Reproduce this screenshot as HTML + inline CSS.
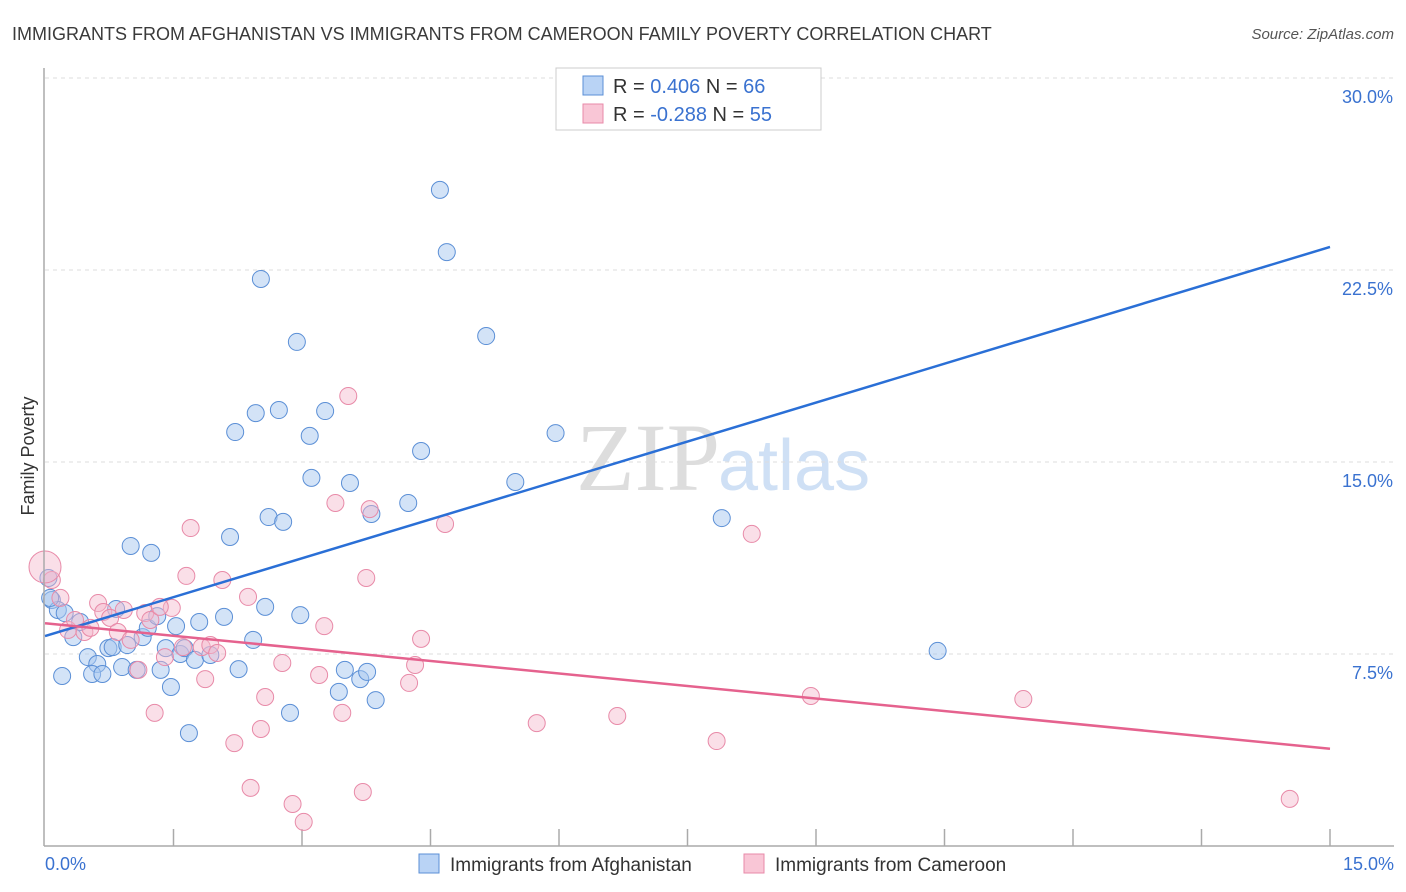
<!DOCTYPE html>
<html><head><meta charset="utf-8"><style>
body{margin:0;background:#fff;font-family:"Liberation Sans",sans-serif}
svg{display:block}
</style></head><body>
<svg id="c" width="1406" height="892">
<text x="12" y="40" font-size="18" fill="#3a3a3a">IMMIGRANTS FROM AFGHANISTAN VS IMMIGRANTS FROM CAMEROON FAMILY POVERTY CORRELATION CHART</text>
<text x="1394" y="39" font-size="15" fill="#555" font-style="italic" text-anchor="end">Source: ZipAtlas.com</text>
<text x="34" y="456" font-size="18" fill="#333" transform="rotate(-90 34 456)" text-anchor="middle">Family Poverty</text>
<text x="720" y="490" font-size="96" font-family="Liberation Serif,serif" fill="#ddd" text-anchor="end">ZIP</text>
<text x="718" y="490" font-size="72" fill="#cfe0f5">atlas</text>
<g id="grid"></g><g id="pts"></g><g id="lines"></g>
<line x1="44" y1="68" x2="44" y2="846" stroke="#aaa" stroke-width="1.5"/>
<line x1="44" y1="846" x2="1394" y2="846" stroke="#aaa" stroke-width="1.5"/>
<text x="45" y="870" font-size="18" fill="#3a72d0">0.0%</text>
<text x="1394" y="870" font-size="18" fill="#3a72d0" text-anchor="end">15.0%</text>
<g>
<rect x="556" y="68" width="265" height="62" fill="#fff" stroke="#ccc"/>
<rect x="583" y="76" width="20" height="19" fill="#b9d3f5" stroke="#5b8fd6"/>
<rect x="583" y="104" width="20" height="19" fill="#f9c6d6" stroke="#e88aa8"/>
<text x="613" y="93" font-size="20" fill="#333">R =  <tspan fill="#3a72d0">0.406</tspan>   N = <tspan fill="#3a72d0">66</tspan></text>
<text x="613" y="121" font-size="20" fill="#333">R = <tspan fill="#3a72d0">-0.288</tspan>   N = <tspan fill="#3a72d0">55</tspan></text>
</g>
<g>
<rect x="419" y="854" width="20" height="19" fill="#b9d3f5" stroke="#5b8fd6"/>
<text x="450" y="871" font-size="19" fill="#333">Immigrants from Afghanistan</text>
<rect x="744" y="854" width="20" height="19" fill="#f9c6d6" stroke="#e88aa8"/>
<text x="775" y="871" font-size="19" fill="#333">Immigrants from Cameroon</text>
</g>
</svg>
<script>
const yTicks=[7.5,15,22.5,30];
const yTickLabels=["7.5%","15.0%","22.5%","30.0%"];
const blueX=[],blueY=[],pinkX=[],pinkY=[];
const bluePx=[[440,190],[447,252],[261,279],[486,336],[297,342],[256,413],[279,410],[325,411],[235,432],[310,436],[556,433],[421,451],[311,478],[350,483],[515,482],[408,503],[371,514],[269,517],[283,522],[722,518],[230,537],[131,546],[151,553],[938,651],[52,600],[58,610],[65,613],[80,622],[73,637],[88,657],[97,664],[62,676],[92,674],[102,674],[108,648],[113,647],[116,609],[127,645],[122,667],[143,637],[148,628],[157,616],[161,670],[137,670],[166,648],[171,687],[176,626],[180,654],[185,648],[195,660],[199,622],[210,655],[224,617],[239,669],[253,640],[265,607],[300,615],[189,733],[290,713],[345,670],[339,692],[360,679],[367,672],[376,700],[48,578],[50,598]];
const pinkPx=[[52,580],[60,598],[68,630],[75,620],[84,632],[90,628],[98,603],[103,612],[110,618],[118,632],[124,610],[131,640],[138,670],[145,613],[150,620],[155,713],[165,657],[172,608],[183,647],[186,576],[191,528],[202,647],[205,679],[210,645],[217,653],[222,580],[234,743],[248,597],[251,788],[261,729],[265,697],[282,663],[293,804],[304,822],[319,675],[324,626],[335,503],[342,713],[348,396],[363,792],[366,578],[370,509],[409,683],[415,665],[421,639],[445,524],[537,723],[617,716],[717,741],[752,534],[811,696],[1023,699],[1290,799],[160,607],[45,567]];
bluePx.forEach(p=>{blueX.push(+((p[0]-45)*15/1285).toFixed(2));blueY.push(+((846-p[1])*7.5/192).toFixed(2));});
pinkPx.forEach(p=>{pinkX.push(+((p[0]-45)*15/1285).toFixed(2));pinkY.push(+((846-p[1])*7.5/192).toFixed(2));});
const blueTrend=[8.2,23.4];
const pinkTrend=[8.7,3.8];
const sx=v=>45+v*1285/15, sy=v=>846-v*192/7.5;
const NS="http://www.w3.org/2000/svg";
function mk(t,a,parent){const e=document.createElementNS(NS,t);for(const k in a)e.setAttribute(k,a[k]);parent.appendChild(e);return e;}
const grid=document.getElementById('grid');
yTicks.forEach((t,i)=>{
 const l=mk('line',{x1:45,x2:1394,y1:sy(t),y2:sy(t),stroke:'#ddd','stroke-dasharray':'4,4'},grid);
 
 
 const tx=mk('text',{x:1393,y:sy(t)+25,'font-size':18,fill:'#3a72d0','text-anchor':'end'},grid);
 tx.textContent=yTickLabels[i];
 
 
});
for(let i=1;i<=10;i++){
 const x=sx(i*1.5);
 const l=mk('line',{x1:x,x2:x,y1:829,y2:846,stroke:'#aaa','stroke-width':1.5},grid);
 
 
}
const pts=document.getElementById('pts');
blueX.forEach((x,i)=>{
 const c=mk('circle',{cx:sx(x),cy:sy(blueY[i]),r:8.5,fill:'rgba(168,200,240,0.5)',stroke:'#5b8fd6','stroke-width':1},pts);
 
 
});
pinkX.forEach((x,i)=>{
 const c=mk('circle',{cx:sx(x),cy:sy(pinkY[i]),r:i==pinkX.length-1?16:8.5,fill:'rgba(245,184,203,0.45)',stroke:'#e88aa8','stroke-width':1},pts);
 
 
});
const lines=document.getElementById('lines');
const b=mk('line',{x1:sx(0),y1:sy(blueTrend[0]),x2:sx(15),y2:sy(blueTrend[1]),stroke:'#2a6fd6','stroke-width':2.5},lines);


const p=mk('line',{x1:sx(0),y1:sy(pinkTrend[0]),x2:sx(15),y2:sy(pinkTrend[1]),stroke:'#e5628e','stroke-width':2.5},lines);


</script>
</body></html>
